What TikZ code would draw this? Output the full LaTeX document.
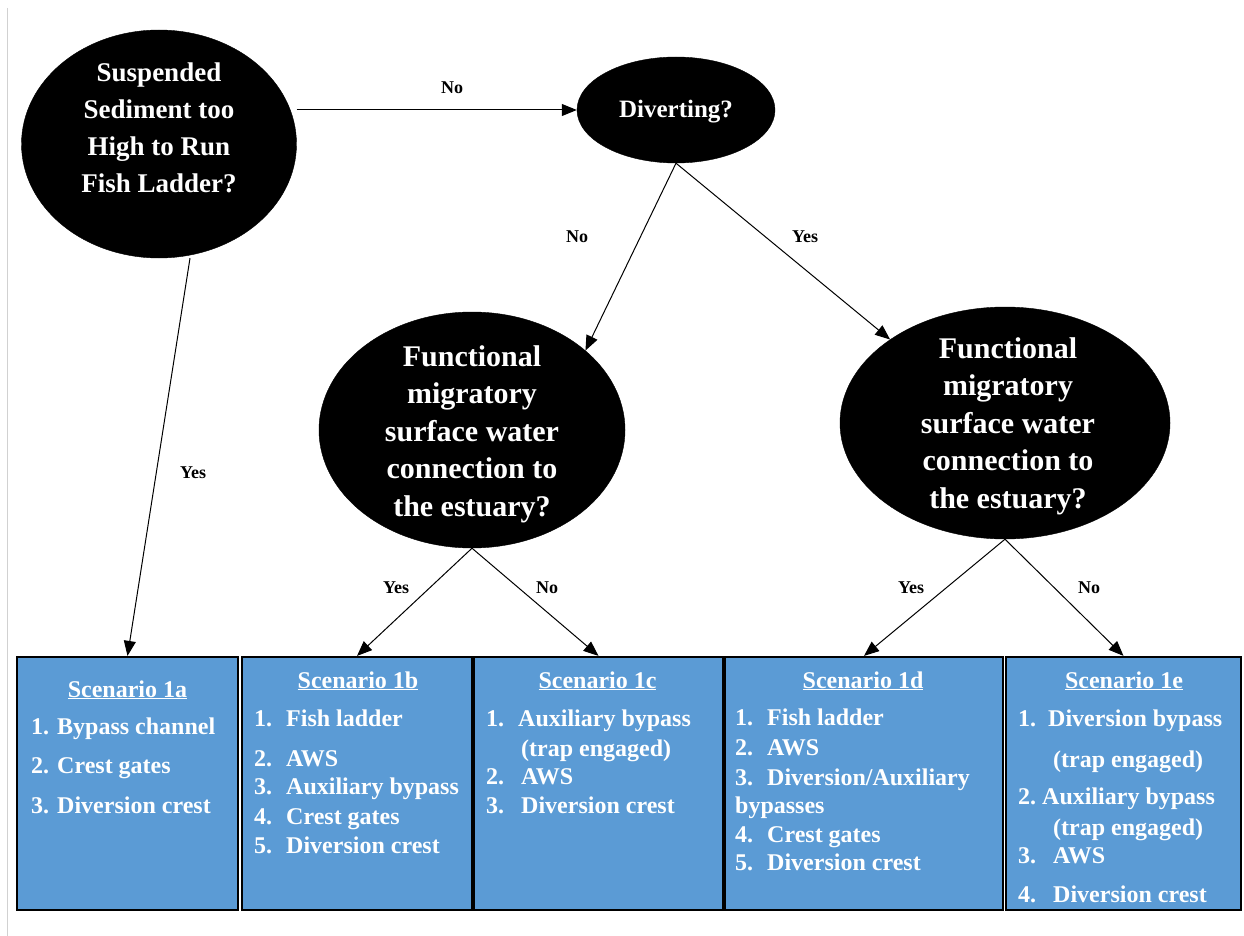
\documentclass[tikz,border=0pt]{standalone}
\usepackage{fontspec}
\setmainfont{Liberation Serif}
\usetikzlibrary{arrows.meta,shapes.geometric}
\definecolor{boxblue}{RGB}{91,155,213}
\begin{document}
\begin{tikzpicture}[x=1pt,y=-1pt,
  q/.style={ellipse,fill=black,draw=black,inner sep=0pt},
  qtext/.style={text=white,font=\bfseries\fontsize{30}{37.5}\selectfont,align=center,inner sep=0pt},
  lab/.style={font=\bfseries\fontsize{18}{20}\selectfont,inner sep=0pt},
  arr/.style={draw=black,line width=1pt,-{Triangle[length=15pt,width=12pt]}},
  scen/.style={rectangle,draw=black,line width=2.2pt,fill=boxblue,inner sep=0pt},
  item/.style={text=white,font=\bfseries\fontsize{24}{28}\selectfont,anchor=base west,inner sep=0pt},
  ttl/.style={text=white,font=\bfseries\fontsize{24}{28}\selectfont,anchor=base,inner sep=0pt},
]
\useasboundingbox (0,0) rectangle (1244,936);
\fill[white] (0,0) rectangle (1244,936);
\draw[black!18,line width=1pt] (7,8) -- (7,936);

% question ellipses
\node[q,minimum width=275pt,minimum height=228pt] (e1) at (159,144) {};
\node[qtext,font=\bfseries\fontsize{27}{37}\selectfont] (e1t) at (159,128) {Suspended\\Sediment too\\High to Run\\Fish Ladder?};
\node[q,minimum width=198pt,minimum height=106pt] (div) at (676,110) {};
\node[qtext,font=\bfseries\fontsize{25}{30}\selectfont] (divt) at (676,112) {Diverting?};
\node[q,minimum width=306pt,minimum height=236pt] (fl) at (472,430) {};
\node[qtext] (flt) at (472,434) {Functional\\migratory\\surface water\\connection to\\the estuary?};
\node[q,minimum width=330pt,minimum height=232pt] (fr) at (1005,423) {};
\node[qtext] (frt) at (1008,426) {Functional\\migratory\\surface water\\connection to\\the estuary?};

% scenario boxes
\node[scen,minimum width=221pt,minimum height=253pt] (b1) at (127.5,783.5) {};
\node[scen,minimum width=230pt,minimum height=253pt] (b2) at (357,783.5) {};
\node[scen,minimum width=249pt,minimum height=253pt] (b3) at (598.5,783.5) {};
\node[scen,minimum width=278pt,minimum height=253pt] (b4) at (864,783.5) {};
\node[scen,minimum width=235pt,minimum height=253pt] (b5) at (1123.5,783.5) {};

% connectors
\draw[arr] (e1.east |- div.west) -- (div.west);
\draw[arr] ([xshift=31pt]e1.south) -- (b1.north);
\draw[arr] (div.south) -- (fl.35);
\draw[arr] (div.south) -- (fr.144);
\draw[arr] (fl.south) -- (b2.north);
\draw[arr] (fl.south) -- (b3.north);
\draw[arr] (fr.south) -- (b4.north);
\draw[arr] (fr.south) -- (b5.north);

% labels
\node[lab] (l1) at (452,88) {No};
\node[lab] (l2) at (577,237) {No};
\node[lab] (l3) at (805,237) {Yes};
\node[lab] (l4) at (193,473) {Yes};
\node[lab] (l5) at (396,588) {Yes};
\node[lab] (l6) at (547,588) {No};
\node[lab] (l7) at (911,588) {Yes};
\node[lab] (l8) at (1089,588) {No};

% box 1
\node[ttl] (t1) at (127.5,697) {\underline{Scenario 1a}};
\node[item] (t1a) at (31,734) {1. Bypass channel};
\node[item] (t1b) at (31,773) {2. Crest gates};
\node[item] (t1c) at (31,813) {3. Diversion crest};
% box 2
\node[ttl] (t2) at (358,688) {\underline{Scenario 1b}};
\node[item] (t2a) at (254,726) {\makebox[32pt][l]{1.}Fish ladder};
\node[item] (t2b) at (254,766) {\makebox[32pt][l]{2.}AWS};
\node[item] (t2c) at (254,794) {\makebox[32pt][l]{3.}Auxiliary bypass};
\node[item] (t2d) at (254,824) {\makebox[32pt][l]{4.}Crest gates};
\node[item] (t2e) at (254,853) {\makebox[32pt][l]{5.}Diversion crest};
% box 3
\node[ttl] (t3) at (597.5,688) {\underline{Scenario 1c}};
\node[item] (t3a) at (486,726) {\makebox[32pt][l]{1.}Auxiliary bypass};
\node[item] (t3b) at (521,756) {(trap engaged)};
\node[item] (t3c) at (486,784) {\makebox[35pt][l]{2.}AWS};
\node[item] (t3d) at (486,813) {\makebox[35pt][l]{3.}Diversion crest};
% box 4
\node[ttl] (t4) at (863,688) {\underline{Scenario 1d}};
\node[item] (t4a) at (735,725) {\makebox[32pt][l]{1.}Fish ladder};
\node[item] (t4b) at (735,755) {\makebox[32pt][l]{2.}AWS};
\node[item] (t4c) at (735,785) {\makebox[32pt][l]{3.}Diversion/Auxiliary};
\node[item] (t4d) at (735,813) {bypasses};
\node[item] (t4e) at (735,842) {\makebox[32pt][l]{4.}Crest gates};
\node[item] (t4f) at (735,870) {\makebox[32pt][l]{5.}Diversion crest};
% box 5
\node[ttl] (t5) at (1124,688) {\underline{Scenario 1e}};
\node[item] (t5a) at (1018,726) {\makebox[30pt][l]{1.}Diversion bypass};
\node[item] (t5b) at (1053,767) {(trap engaged)};
\node[item] (t5c) at (1018,804) {\makebox[24pt][l]{2.}Auxiliary bypass};
\node[item] (t5d) at (1053,835) {(trap engaged)};
\node[item] (t5e) at (1018,863) {\makebox[35pt][l]{3.}AWS};
\node[item] (t5f) at (1018,902) {\makebox[35pt][l]{4.}Diversion crest};
\end{tikzpicture}
\end{document}
